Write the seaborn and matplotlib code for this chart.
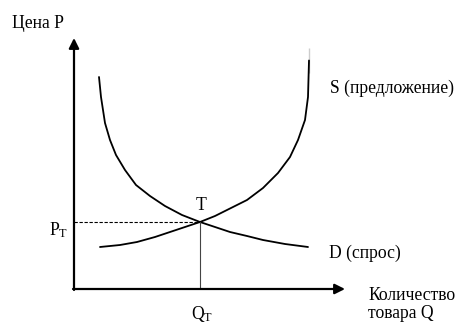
import matplotlib
matplotlib.use("Agg")
import matplotlib.pyplot as plt
import seaborn as sns
import pandas as pd

sns.set_theme(style="white")
plt.rcParams['font.family'] = ['Liberation Serif', 'DejaVu Serif']
plt.rcParams['mathtext.fontset'] = 'custom'
plt.rcParams['mathtext.rm'] = 'Liberation Serif'
plt.rcParams['mathtext.it'] = 'Liberation Serif:italic'

# Demand curve D (quantity, price)
demand_q = [2.5, 2.7, 3.1, 3.6, 4.2, 5.1, 6.2, 7.6, 9.1, 10.8, 12.6, 14.1, 15.6, 17.3, 18.9, 21.1, 23.4]
demand_p = [21.2, 19.2, 16.6, 14.9, 13.4, 11.9, 10.4, 9.3, 8.3, 7.4, 6.7, 6.2, 5.7, 5.3, 4.9, 4.5, 4.2]
# Supply curve S (quantity, price)
supply_q = [2.6, 4.6, 6.3, 8.1, 9.6, 11.1, 12.6, 14.1, 15.3, 17.3, 18.9, 20.4, 21.6, 22.4, 23.1, 23.4, 23.5, 23.5]
supply_p = [4.2, 4.4, 4.7, 5.2, 5.7, 6.2, 6.7, 7.3, 7.9, 8.9, 10.1, 11.6, 13.2, 14.9, 16.9, 19.2, 21.6, 24.1]
# Equilibrium
eq_q = 12.6
eq_p = 6.7
axis_max_q = 27.1
axis_max_p = 25.1

labels = {
    "price": "Цена P",
    "qty1": "Количество",
    "qty2": "товара Q",
    "supply": "S (предложение)",
    "demand": "D (спрос)",
    "eq": "T",
    "pt": r"P$_{\mathrm{T}}$",
    "qt": r"Q$_{\mathrm{T}}$",
}

fig = plt.figure(figsize=(4.57, 3.24), dpi=100)
ax = fig.add_axes([0, 0, 1, 1])
ax.set_xlim(-7.4, 38.3)
ax.set_ylim(-3.5, 28.9)
ax.axis('off')

df_d = pd.DataFrame({"Q": demand_q, "P": demand_p})
df_s = pd.DataFrame({"Q": supply_q, "P": supply_p})
sns.lineplot(data=df_d, x="Q", y="P", sort=False, color="black", lw=1.3, ax=ax)
sns.lineplot(data=df_s, x="Q", y="P", sort=False, color="black", lw=1.3, ax=ax)

# guide lines
ax.plot([0, eq_q], [eq_p, eq_p], color="black", lw=0.8, ls=(0, (3, 1.5)))
ax.plot([eq_q, eq_q], [0, eq_p], color="#444444", lw=0.8)

# axes arrows
ax.annotate('', xy=(axis_max_q, 0), xytext=(-0.1, 0),
            arrowprops=dict(arrowstyle='-|>', lw=1.6, color='black', mutation_scale=15, shrinkA=0, shrinkB=0))
ax.annotate('', xy=(0, axis_max_p), xytext=(0, -0.1),
            arrowprops=dict(arrowstyle='-|>', lw=1.6, color='black', mutation_scale=15, shrinkA=0, shrinkB=0))

fs = 12.7
ax.text(-6.2, 26.6, labels["price"], fontsize=fs, ha='left', va='center', color='black')
ax.text(-0.6, 5.9, labels["pt"], fontsize=fs, ha='right', va='center', color='black')
ax.text(eq_q + 0.1, 8.3, labels["eq"], fontsize=fs, ha='center', va='center', color='black')
ax.text(eq_q + 0.2, -2.5, labels["qt"], fontsize=fs, ha='center', va='center', color='black')
ax.text(25.6, 20.1, labels["supply"], fontsize=fs, ha='left', va='center', color='black')
ax.text(25.5, 3.6, labels["demand"], fontsize=fs, ha='left', va='center', color='black')
ax.text(29.4, -0.6, labels["qty1"], fontsize=fs, ha='left', va='center', color='black')
ax.text(29.4, -2.4, labels["qty2"], fontsize=fs, ha='left', va='center', color='black')

fig.savefig("out.png", dpi=100)
